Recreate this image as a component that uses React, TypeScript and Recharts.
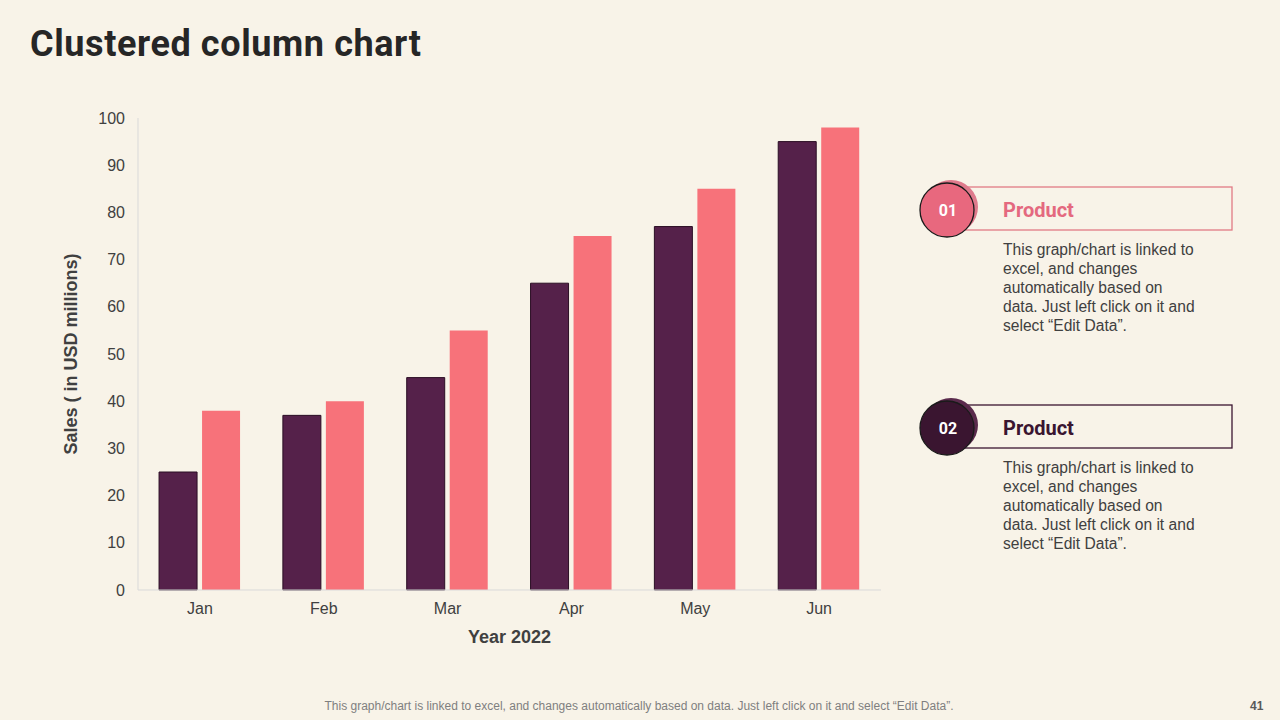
import React from "react";
import { BarChart, Bar, XAxis, YAxis, Label } from "recharts";

const categories = ["Jan", "Feb", "Mar", "Apr", "May", "Jun"];
const productA = [25, 37, 45, 65, 77, 95];
const productB = [38, 40, 55, 75, 85, 98];
const yTicks = [0, 10, 20, 30, 40, 50, 60, 70, 80, 90, 100];

const data = categories.map((c, i) => ({ name: c, a: productA[i], b: productB[i] }));

const BG = "#F8F3E8";
const DARK = "#55214A";
const PINK = "#F7727A";

const desc = [
  "This graph/chart is linked to",
  "excel, and changes",
  "automatically based on",
  "data. Just left click on it and",
  "select \u201CEdit Data\u201D.",
];

function Panel({ top, num, color, circle, shadow, boxStroke }: any) {
  return (
    <>
      <svg style={{ position: "absolute", left: 910, top: top - 40, overflow: "visible" }} width={340} height={80}>
        <rect x={40} y={18} width={282} height={43} fill="none" stroke={boxStroke} strokeWidth={1.3} />
        <circle cx={41} cy={38} r={27} fill={shadow} />
        <circle cx={37} cy={41} r={27} fill={circle} stroke="#1a1a1a" strokeWidth={1.3} />
        <text x={38} y={47} textAnchor="middle" fill="#fff" fontFamily="Roboto, sans-serif" fontWeight={700} fontSize={16}>
          {num}
        </text>
        <text x={93} y={48} fill={color} fontFamily="Roboto, sans-serif" fontWeight={700} fontSize={20}>
          Product
        </text>
      </svg>
      <div
        style={{
          position: "absolute",
          left: 1003,
          top: top + 31,
          fontFamily: "'Liberation Sans', Arial, sans-serif",
          fontSize: 15.6,
          lineHeight: "19px",
          color: "#404040",
          whiteSpace: "pre",
        }}
      >
        {desc.join("\n")}
      </div>
    </>
  );
}

export default function App() {
  return (
    <div style={{ position: "fixed", left: 0, top: 0, width: 1280, height: 720, background: BG, overflow: "hidden" }}>
      <div
        style={{
          position: "absolute",
          left: 30,
          top: 20,
          fontFamily: "Roboto, sans-serif",
          fontWeight: 700,
          fontSize: 36,
          color: "#262626",
          letterSpacing: 0.6,
          lineHeight: "48px",
        }}
      >
        Clustered column chart
      </div>

      <div style={{ position: "absolute", left: 0, top: 0 }}>
        <BarChart
          width={900}
          height={680}
          data={data}
          margin={{ top: 118, right: 19, left: 58, bottom: 35 }}
          barCategoryGap="17%"
          barGap={5}
        >
          <XAxis
            dataKey="name"
            axisLine={{ stroke: "#D9D9D9" }}
            tickLine={false}
            tickMargin={7}
            height={55}
            tick={{ fill: "#404040", fontSize: 16, fontFamily: "'Liberation Sans', Arial, sans-serif" }}
          >
            <Label
              value="Year 2022"
              position="insideBottom"
              offset={2}
              fill="#404040"
              fontSize={18}
              fontWeight={700}
              fontFamily="'Liberation Sans', Arial, sans-serif"
            />
          </XAxis>
          <YAxis
            domain={[0, 100]}
            ticks={yTicks}
            width={80}
            axisLine={{ stroke: "#D9D9D9" }}
            tickLine={false}
            tickMargin={7}
            tick={{ fill: "#404040", fontSize: 16, fontFamily: "'Liberation Sans', Arial, sans-serif" }}
          >
            <Label
              value="Sales  ( in USD millions)"
              angle={-90}
              position="insideLeft"
              offset={13}
              style={{ textAnchor: "middle" }}
              fill="#404040"
              fontSize={18}
              fontWeight={700}
              fontFamily="'Liberation Sans', Arial, sans-serif"
            />
          </YAxis>
          <Bar dataKey="a" fill={DARK} stroke="#2A0E24" strokeWidth={1} isAnimationActive={false} />
          <Bar dataKey="b" fill={PINK} isAnimationActive={false} />
        </BarChart>
      </div>

      <Panel top={209} num="01" color="#E4697F" circle="#E8687E" shadow="#DE7A8C" boxStroke="#E07A85" />
      <Panel top={427} num="02" color="#3A1530" circle="#3A1530" shadow="#5A2A4C" boxStroke="#3A1530" />

      <div
        style={{
          position: "absolute",
          left: 0,
          width: 1278,
          top: 699,
          textAlign: "center",
          fontFamily: "'Liberation Sans', Arial, sans-serif",
          fontSize: 12,
          color: "#7F7F7F",
        }}
      >
        This graph/chart is linked to excel,  and changes automatically based on data. Just left click on it and select {"\u201C"}Edit Data{"\u201D"}.
      </div>
      <div
        style={{
          position: "absolute",
          left: 1250,
          top: 699,
          fontFamily: "'Liberation Sans', Arial, sans-serif",
          fontSize: 12,
          color: "#595959",
          fontWeight: 700,
        }}
      >
        41
      </div>
    </div>
  );
}
